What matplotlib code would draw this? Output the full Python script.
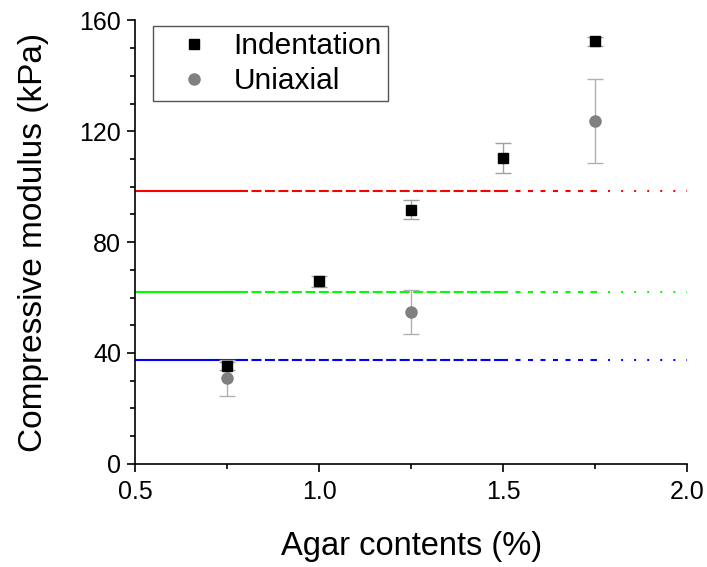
import matplotlib.pyplot as plt
import numpy as np

plt.rcParams['font.family'] = ['Liberation Sans', 'DejaVu Sans']
plt.rcParams['lines.scale_dashes'] = False

# data
agar = [0.75, 1.0, 1.25, 1.5, 1.75]
indent = [35.3, 65.8, 91.7, 110.4, 152.4]
indent_err = [1.5, 2.0, 3.5, 5.5, 1.5]

uni_agar = [0.75, 1.25, 1.75]
uniaxial = [31.0, 54.7, 123.7]
uniaxial_err = [6.5, 8.0, 15.3]

ref_levels = [98.5, 62.0, 37.5]
ref_colors = ['#ff0000', '#00ff00', '#0000ff']

fig = plt.figure(figsize=(7.07, 5.67), dpi=100)
ax = fig.add_axes([0.191, 0.182, 0.781, 0.782])

# horizontal reference lines: solid -> dashed -> short dash -> dotted
segs = [(0.5, 0.78, '-'), (0.78, 1.5, (0, (7.2, 2.5))),
        (1.5, 1.75, (0, (3.6, 5.4))), (1.75, 2.0, (0, (1.4, 8.0)))]
for lvl, c in zip(ref_levels, ref_colors):
    for x0, x1, ls in segs:
        ax.plot([x0, x1], [lvl, lvl], color=c, lw=1.5, ls=ls, zorder=1)

ax.errorbar(agar, indent, yerr=indent_err, fmt='s', color='black', ms=7,
            ecolor='#a0a0a0', elinewidth=1, capsize=6, capthick=1,
            label='Indentation', zorder=3)
ax.errorbar(uni_agar, uniaxial, yerr=uniaxial_err, fmt='o', color='#808080',
            ms=8, ecolor='#b0b0b0', elinewidth=1, capsize=6, capthick=1,
            label='Uniaxial', zorder=2)

ax.set_xlim(0.5, 2.0)
ax.set_ylim(0, 160)
ax.set_xticks([0.5, 1.0, 1.5, 2.0])
ax.set_xticks([0.75, 1.25, 1.75], minor=True)
ax.set_yticks([0, 40, 80, 120, 160])
ax.set_yticks(np.arange(10, 160, 10), minor=True)
ax.xaxis.set_major_formatter(plt.FormatStrFormatter('%.1f'))

for s in ['top', 'right']:
    ax.spines[s].set_visible(False)
for s in ['left', 'bottom']:
    ax.spines[s].set_linewidth(1.2)
ax.tick_params(which='major', length=6, width=1.2, labelsize=18, pad=4)
ax.tick_params(axis='x', which='major', pad=6)
ax.tick_params(which='minor', length=3.5, width=1.2)

ax.set_xlabel('Agar contents (%)', fontsize=23.5, labelpad=19)
ax.set_ylabel('Compressive modulus (kPa)', fontsize=24, labelpad=22)

leg_handles, leg_labels = ax.get_legend_handles_labels()
leg_handles = [h[0] for h in leg_handles]
ax.legend(leg_handles, leg_labels, loc='upper left',
          bbox_to_anchor=(153 / 707, 1 - 26 / 567), bbox_transform=fig.transFigure,
          fontsize=21.5, frameon=True, fancybox=False, edgecolor='#555555',
          framealpha=1, borderpad=0.2, handlelength=2.35, handletextpad=0.15,
          labelspacing=0.25, borderaxespad=0)
ax.get_legend().get_frame().set_linewidth(1.0)

fig.savefig('out.png', dpi=100)
